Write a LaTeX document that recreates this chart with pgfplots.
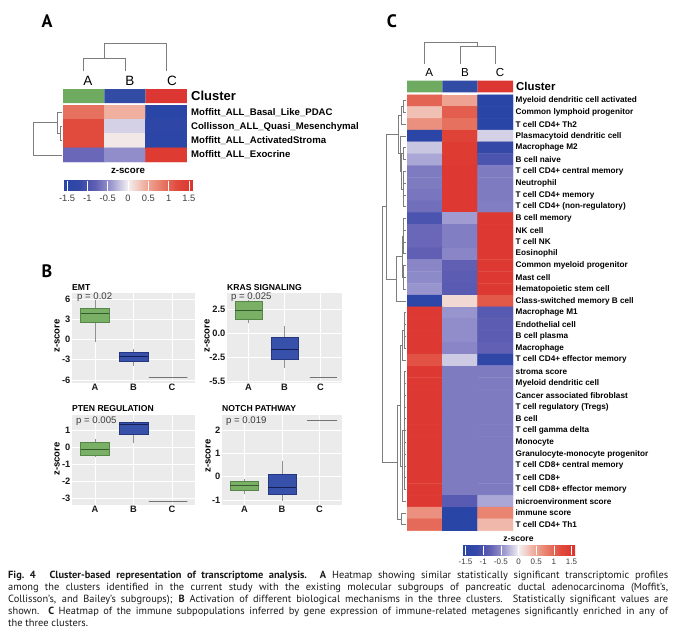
\documentclass[border=0pt]{standalone}
\usepackage{fontspec}
\setmainfont{Liberation Sans}
\newfontfamily\ptsans{PT Sans}
\usepackage{pgfplots}
\pgfplotsset{compat=1.18}
\usepgfplotslibrary{statistics}

\definecolor{ggbg}{RGB}{235,235,235}
\definecolor{cgreen}{RGB}{110,170,95}
\definecolor{cblue}{RGB}{50,75,165}
\definecolor{cred}{RGB}{220,55,50}
\definecolor{gfill}{RGB}{122,176,102}
\definecolor{gline}{RGB}{85,135,72}
\definecolor{gmed}{RGB}{55,90,45}
\definecolor{bfill}{RGB}{55,80,170}
\definecolor{bline}{RGB}{38,55,130}
\definecolor{bmed}{RGB}{20,30,85}
\definecolor{wgray}{RGB}{145,145,145}
\definecolor{cline}{RGB}{115,115,115}
\definecolor{tgray}{RGB}{60,60,60}
\definecolor{dendro}{RGB}{125,125,125}

\newcommand\fsz[1]{\fontsize{#1bp}{#1bp}\selectfont}

\pgfplotsset{
  colormap={hm}{rgb255=(40,70,166) rgb255=(52,72,168) rgb255=(98,96,180) rgb255=(160,156,210)
    rgb255=(243,240,242) rgb255=(240,176,160) rgb255=(232,125,105) rgb255=(224,75,62) rgb255=(220,50,44)},
  heat/.style={scale only axis, hide axis, enlargelimits=false, y dir=reverse,
    xmin=-0.5, xmax=2.5, anchor=north west},
  cbar/.style={colorbar horizontal, colormap name=hm, point meta min=-1.6, point meta max=1.6},
  cbarstyle/.style={at={(parent axis.south west)}, anchor=north west, scale only axis,
    xtick={-1.5,-1,-0.5,0,0.5,1,1.5}, xticklabels={-1.5,-1,-0.5,0,0.5,1,1.5},
    axis line style={draw=none}, xtick style={draw=white, line width=0.5pt},
    tick align=inside, xtick pos=left, ytick=\empty},
  ggbox/.style={scale only axis, anchor=north west, xmin=0.4, xmax=3.6,
    xtick={1,2,3}, xticklabels={A,B,C},
    axis background/.style={fill=ggbg}, axis line style={draw=none},
    grid=major, grid style={white, line width=0.7pt},
    major tick length=0pt, tick label style={font=\bfseries\fsz{9.3}, text=black!90},
    yticklabel style={inner xsep=1.5bp}, xticklabel style={inner ysep=1bp},
    boxplot/draw direction=y, boxplot/whisker extend=0},
  bA/.style={draw=gline, fill=gfill, line width=0.6pt, boxplot/box extend=0.75,
    boxplot/every median/.style={draw=gmed, line width=0.9pt},
    boxplot/every whisker/.style={draw=wgray, line width=0.6pt}},
  bB/.style={draw=bline, fill=bfill, line width=0.6pt, boxplot/box extend=0.75,
    boxplot/every median/.style={draw=bmed, line width=0.9pt},
    boxplot/every whisker/.style={draw=wgray, line width=0.6pt}},
  bC/.style={draw=cline, line width=0.8pt},
}

\begin{document}
\begin{tikzpicture}
\path[use as bounding box] (0,0) rectangle (680bp,-636bp);

% ---------------- panel A ----------------
\begin{axis}[heat, at={(63bp,-89bp)}, width=124bp, height=14bp, ymin=-0.5, ymax=0.5]
\addplot[fill=cgreen, draw=none] coordinates {(-0.5,-0.5) (0.5,-0.5) (0.5,0.5) (-0.5,0.5) (-0.5,-0.5)};
\addplot[fill=cblue, draw=none] coordinates {(0.5,-0.5) (1.5,-0.5) (1.5,0.5) (0.5,0.5) (0.5,-0.5)};
\addplot[fill=cred, draw=none] coordinates {(1.5,-0.5) (2.5,-0.5) (2.5,0.5) (1.5,0.5) (1.5,-0.5)};
\end{axis}

\begin{axis}[heat, at={(63bp,-105bp)}, width=124bp, height=57bp, ymin=-0.5, ymax=3.5,
  cbar, colorbar style={cbarstyle, yshift=-10bp, width=130bp, height=10bp, major tick length=10bp,
    xticklabel style={font=\fsz{9.3}, text=tgray, inner ysep=4bp}}]
\addplot[matrix plot*, mesh/cols=3, point meta=explicit] table[meta=z] {
x y z
0 0 0.9
1 0 0.4
2 0 -1.55
0 1 1.2
1 1 -0.15
2 1 -1.4
0 2 1.2
1 2 0.05
2 2 -1.5
0 3 -0.75
1 3 -0.5
2 3 1.45
};
\end{axis}

% ---------------- panel C ----------------
\begin{axis}[heat, at={(407bp,-80.7bp)}, width=106bp, height=11.6bp, ymin=-0.5, ymax=0.5]
\addplot[fill=cgreen, draw=none] coordinates {(-0.5,-0.5) (0.5,-0.5) (0.5,0.5) (-0.5,0.5) (-0.5,-0.5)};
\addplot[fill=cblue, draw=none] coordinates {(0.5,-0.5) (1.5,-0.5) (1.5,0.5) (0.5,0.5) (0.5,-0.5)};
\addplot[fill=cred, draw=none] coordinates {(1.5,-0.5) (2.5,-0.5) (2.5,0.5) (1.5,0.5) (1.5,-0.5)};
\end{axis}

\begin{axis}[heat, at={(407bp,-94.8bp)}, width=106bp, height=435.86bp, ymin=-0.5, ymax=36.5,
  cbar, colorbar style={cbarstyle, xshift=55bp, yshift=-6.4bp, width=113bp, height=9.7bp, major tick length=9.7bp,
    xticklabel style={font=\fsz{8}, text=tgray, inner ysep=3.5bp}}]
\addplot[matrix plot*, mesh/cols=3, point meta=explicit] table[meta=z] {
x y z
0 0 1.0
1 0 0.5
2 0 -1.55
0 1 0.3
1 1 1.05
2 1 -1.55
0 2 0.65
1 2 0.9
2 2 -1.55
0 3 -1.5
1 3 1.35
2 3 -0.15
0 4 -0.2
1 4 1.45
2 4 -1.2
0 5 -0.35
1 5 1.45
2 5 -1.0
0 6 -0.62
1 6 1.5
2 6 -0.62
0 7 -0.62
1 7 1.5
2 7 -0.62
0 8 -0.65
1 8 1.5
2 8 -0.62
0 9 -0.7
1 9 1.5
2 9 -0.6
0 10 -1.0
1 10 -0.4
2 10 1.5
0 11 -0.75
1 11 -0.6
2 11 1.5
0 12 -0.75
1 12 -0.6
2 12 1.5
0 13 -0.82
1 13 -0.55
2 13 1.5
0 14 -0.55
1 14 -0.82
2 14 1.5
0 15 -0.52
1 15 -0.85
2 15 1.5
0 16 -0.45
1 16 -0.88
2 16 1.5
0 17 -1.45
1 17 0.15
2 17 1.1
0 18 1.5
1 18 -0.45
2 18 -0.9
0 19 1.5
1 19 -0.5
2 19 -0.85
0 20 1.5
1 20 -0.5
2 20 -0.85
0 21 1.5
1 21 -0.55
2 21 -0.8
0 22 1.15
1 22 -0.18
2 22 -1.3
0 23 1.5
1 23 -0.62
2 23 -0.62
0 24 1.5
1 24 -0.62
2 24 -0.62
0 25 1.5
1 25 -0.62
2 25 -0.62
0 26 1.5
1 26 -0.62
2 26 -0.62
0 27 1.5
1 27 -0.62
2 27 -0.62
0 28 1.5
1 28 -0.62
2 28 -0.62
0 29 1.5
1 29 -0.62
2 29 -0.62
0 30 1.5
1 30 -0.62
2 30 -0.62
0 31 1.5
1 31 -0.62
2 31 -0.62
0 32 1.5
1 32 -0.62
2 32 -0.62
0 33 1.5
1 33 -0.62
2 33 -0.62
0 34 1.5
1 34 -0.88
2 34 -0.35
0 35 0.65
1 35 -1.55
2 35 0.75
0 36 0.95
1 36 -1.55
2 36 0.35
};
\end{axis}

% ---------------- panel B ----------------
\begin{axis}[ggbox, at={(72bp,-293bp)}, width=123bp, height=90bp, ymin=-6.44, ymax=6.89,
  ytick={-6,-3,0,3,6}, yticklabels={-6,-3,0,3,6}]
\addplot[bA, boxplot prepared={draw position=1, lower whisker=-0.33, lower quartile=2.49,
  median=3.88, upper quartile=4.62, upper whisker=5.9}] coordinates {};
\addplot[bB, boxplot prepared={draw position=2, lower whisker=-3.93, lower quartile=-3.19,
  median=-2.44, upper quartile=-1.96, upper whisker=-1.45}] coordinates {};
\addplot[bC, boxplot/box extend=1.0, boxplot prepared={draw position=2.9, lower whisker=-5.66, lower quartile=-5.66,
  median=-5.66, upper quartile=-5.66, upper whisker=-5.66}] coordinates {};
\end{axis}

\begin{axis}[ggbox, at={(227bp,-293bp)}, width=115bp, height=90bp, ymin=-5.14, ymax=4.19,
  ytick={-5,-2.5,0,2.5}, yticklabels={-5.5,-2.5,0.0,2.5}]
\addplot[bA, boxplot prepared={draw position=1, lower whisker=1.05, lower quartile=1.46,
  median=2.42, upper quartile=3.28, upper whisker=3.45}] coordinates {};
\addplot[bB, boxplot prepared={draw position=2, lower whisker=-3.62, lower quartile=-2.65,
  median=-1.62, upper quartile=-0.40, upper whisker=0.77}] coordinates {};
\addplot[bC, boxplot/box extend=0.75, boxplot prepared={draw position=3.08, lower whisker=-4.59, lower quartile=-4.59,
  median=-4.59, upper quartile=-4.59, upper whisker=-4.59}] coordinates {};
\end{axis}

\begin{axis}[ggbox, at={(72bp,-415bp)}, width=123bp, height=90bp, ymin=-3.40, ymax=1.87,
  ytick={-3,-2,-1,0,1}, yticklabels={-3,-2,-1,0,1}]
\addplot[bA, boxplot prepared={draw position=1, lower whisker=-0.61, lower quartile=-0.49,
  median=-0.14, upper quartile=0.25, upper whisker=0.44}] coordinates {};
\addplot[bB, boxplot prepared={draw position=2, lower whisker=0.21, lower quartile=0.75,
  median=1.32, upper quartile=1.42, upper whisker=1.53}] coordinates {};
\addplot[bC, boxplot/box extend=1.0, boxplot prepared={draw position=2.9, lower whisker=-3.16, lower quartile=-3.16,
  median=-3.16, upper quartile=-3.16, upper whisker=-3.16}] coordinates {};
\end{axis}

\begin{axis}[ggbox, at={(222bp,-415bp)}, width=120bp, height=90bp, ymin=-1.22, ymax=2.64,
  ytick={-1,0,1,2}, yticklabels={-1,0,1,2}]
\addplot[bA, boxplot prepared={draw position=1, lower whisker=-0.75, lower quartile=-0.57,
  median=-0.36, upper quartile=-0.22, upper whisker=-0.12}] coordinates {};
\addplot[bB, boxplot prepared={draw position=2, lower whisker=-1.03, lower quartile=-0.76,
  median=-0.46, upper quartile=0.10, upper whisker=0.68}] coordinates {};
\addplot[bC, boxplot/box extend=0.8, boxplot prepared={draw position=3.07, lower whisker=2.43, lower quartile=2.43,
  median=2.43, upper quartile=2.43, upper whisker=2.43}] coordinates {};
\end{axis}

% ---------------- dendrograms (pixel frame) ----------------
\begin{axis}[at={(0,0)}, anchor=north west, scale only axis, width=680bp, height=636bp, hide axis,
  xmin=0, xmax=680, ymin=0, ymax=636, y dir=reverse, clip=false, unbounded coords=jump]
% panel A, columns
\addplot[dendro, line width=0.8pt] coordinates {(83.7,71) (83.7,58) (125,58) (125,71) (nan,nan)
  (104.3,58) (104.3,43) (166.3,43) (166.3,71)};
% panel A, rows
\addplot[dendro, line width=0.8pt] coordinates {(62,126.4) (60,126.4) (60,140.6) (62,140.6) (nan,nan)
  (62,112.1) (57,112.1) (57,133.5) (60,133.5) (nan,nan)
  (57,122.8) (33,122.8) (33,154.9) (62,154.9)};
% panel C, columns
\addplot[dendro, line width=0.8pt] coordinates {(460,64) (460,46) (495.3,46) (495.3,64) (nan,nan)
  (477.7,46) (477.7,42.7) (424.7,42.7) (424.7,64)};
% panel C, rows (upper part)
\addplot[dendro, line width=0.7pt] coordinates {
  (406,100.69) (403,100.69) (403,112.47) (406,112.47) (nan,nan)
  (403,106.58) (401.5,106.58) (401.5,124.25) (406,124.25) (nan,nan)
  (406,147.81) (403,147.81) (403,159.59) (406,159.59) (nan,nan)
  (406,171.37) (403.5,171.37) (403.5,206.71) (406,206.71) (nan,nan)
  (403.5,183.15) (406,183.15) (nan,nan) (403.5,194.93) (406,194.93) (nan,nan)
  (403,153.7) (401.5,153.7) (401.5,189.04) (403.5,189.04) (nan,nan)
  (406,136.03) (400,136.03) (400,171.37) (401.5,171.37) (nan,nan)
  (401.5,115.4) (398.5,115.4) (398.5,153.7) (400,153.7) (nan,nan)
  (406,218.49) (403.5,218.49) (403.5,253.83) (406,253.83) (nan,nan)
  (403.5,230.27) (406,230.27) (nan,nan) (403.5,242.05) (406,242.05) (nan,nan)
  (406,265.61) (403.5,265.61) (403.5,289.17) (406,289.17) (nan,nan)
  (403.5,277.39) (406,277.39) (nan,nan)
  (403.5,236.16) (402,236.16) (402,277.39) (403.5,277.39) (nan,nan)
  (402,256.78) (396,256.78) (396,300.95) (406,300.95) (nan,nan)
  (398.5,134.55) (386,134.55) (386,278.87) (396,278.87)};
% panel C, rows (lower part and root)
\addplot[dendro, line width=0.7pt] coordinates {
  (406,312.73) (404,312.73) (404,348.07) (406,348.07) (nan,nan)
  (404,324.51) (406,324.51) (nan,nan) (404,336.29) (406,336.29) (nan,nan)
  (404,330.4) (402,330.4) (402,359.85) (406,359.85) (nan,nan)
  (406,371.63) (404.5,371.63) (404.5,489.43) (406,489.43) (nan,nan)
  (404.5,383.41) (406,383.41) (nan,nan) (404.5,395.19) (406,395.19) (nan,nan)
  (404.5,406.97) (406,406.97) (nan,nan) (404.5,418.75) (406,418.75) (nan,nan)
  (404.5,430.53) (406,430.53) (nan,nan) (404.5,442.31) (406,442.31) (nan,nan)
  (404.5,454.09) (406,454.09) (nan,nan) (404.5,465.87) (406,465.87) (nan,nan)
  (404.5,477.65) (406,477.65) (nan,nan)
  (404.5,430.53) (402,430.53) (402,501.21) (406,501.21) (nan,nan)
  (402,345.13) (400,345.13) (400,465.87) (402,465.87) (nan,nan)
  (406,512.99) (401,512.99) (401,524.77) (406,524.77) (nan,nan)
  (400,405.5) (397.5,405.5) (397.5,518.88) (401,518.88) (nan,nan)
  (386,206.71) (382.7,206.71) (382.7,462.19) (397.5,462.19)};
\end{axis}

% ---------------- texts ----------------
\begin{scope}[every node/.style={inner sep=0pt}]
% panel letters
\node[font=\ptsans\bfseries\fsz{18}] at (47bp,-21bp) {A};
\node[font=\ptsans\bfseries\fsz{18}] at (47bp,-271.5bp) {B};
\node[font=\ptsans\bfseries\fsz{18}] at (392bp,-21bp) {C};

% panel A
\node[font=\fsz{13.5}] at (88bp,-81bp) {A};
\node[font=\fsz{13.5}] at (130bp,-81bp) {B};
\node[font=\fsz{13.5}] at (172bp,-81bp) {C};
\node[anchor=west, font=\bfseries\fsz{13}] at (191bp,-96bp) {Cluster};
\node[anchor=west, font=\bfseries\fsz{9.6}] at (191bp,-112.7bp) {Moffitt\_ALL\_Basal\_Like\_PDAC};
\node[anchor=west, font=\bfseries\fsz{9.6}] at (191bp,-127bp) {Collisson\_ALL\_Quasi\_Mesenchymal};
\node[anchor=west, font=\bfseries\fsz{9.6}] at (191bp,-140.7bp) {Moffitt\_ALL\_ActivatedStroma};
\node[anchor=west, font=\bfseries\fsz{9.6}] at (191bp,-155bp) {Moffitt\_ALL\_Exocrine};
\node[font=\bfseries\fsz{9.7}] at (128bp,-171bp) {z-score};

% panel B
\node[anchor=west, font=\bfseries\fsz{8.6}] at (72bp,-288bp) {EMT};
\node[anchor=west, font=\bfseries\fsz{8.6}] at (227bp,-288bp) {KRAS SIGNALING};
\node[anchor=west, font=\bfseries\fsz{8.6}] at (72bp,-409bp) {PTEN REGULATION};
\node[anchor=west, font=\bfseries\fsz{8.6}] at (222bp,-409bp) {NOTCH PATHWAY};
\node[anchor=west, font=\fsz{9.6}, text=tgray] at (77bp,-297.5bp) {p = 0.02};
\node[anchor=west, font=\fsz{9.6}, text=tgray] at (231bp,-297.5bp) {p = 0.025};
\node[anchor=west, font=\fsz{9.6}, text=tgray] at (76bp,-421.5bp) {p = 0.005};
\node[anchor=west, font=\fsz{9.6}, text=tgray] at (226bp,-421.5bp) {p = 0.019};
\node[rotate=90, font=\bfseries\fsz{9.5}] at (57bp,-336bp) {z-score};
\node[rotate=90, font=\bfseries\fsz{9.5}] at (207bp,-336bp) {z-score};
\node[rotate=90, font=\bfseries\fsz{9.5}] at (57bp,-459bp) {z-score};
\node[rotate=90, font=\bfseries\fsz{9.5}] at (208bp,-456bp) {z-score};

% panel C
\node[font=\fsz{11.6}] at (429.3bp,-73bp) {A};
\node[font=\fsz{11.6}] at (465bp,-73bp) {B};
\node[font=\fsz{11.6}] at (500bp,-73bp) {C};
\node[anchor=west, font=\bfseries\fsz{11.4}] at (516bp,-86.5bp) {Cluster};
\foreach \lab [count=\i] in {Myeloid dendritic cell activated, Common lymphoid progenitor,
  T cell CD4+ Th2, Plasmacytoid dendritic cell, Macrophage M2, B cell naive,
  T cell CD4+ central memory, Neutrophil, T cell CD4+ memory, T cell CD4+ (non-regulatory),
  B cell memory, NK cell, T cell NK, Eosinophil, Common myeloid progenitor, Mast cell,
  Hematopoietic stem cell, Class-switched memory B cell, Macrophage M1, Endothelial cell,
  B cell plasma, Macrophage, T cell CD4+ effector memory, stroma score, Myeloid dendritic cell,
  Cancer associated fibroblast, T cell regulatory (Tregs), B cell, T cell gamma delta, Monocyte,
  Granulocyte-monocyte progenitor, T cell CD8+ central memory, T cell CD8+,
  T cell CD8+ effector memory, microenvironment score, immune score, T cell CD4+ Th1}
  {\pgfmathsetmacro\yy{-(94.8+(\i-0.5)*11.78)}
   \node[anchor=west, font=\bfseries\fsz{8.2}] at (515.5bp,\yy bp) {\lab};}
\node[font=\bfseries\fsz{8.6}] at (518.5bp,-539bp) {z-score};

% caption
\node[anchor=north west, align=left, font=\ptsans\fsz{10.4}, text=black!90] at (8bp,-571bp) {%
\makebox[660bp][s]{\textbf{Fig.~4}\hspace{8bp} \textbf{Cluster-based representation of transcriptome analysis.} \textbf{A} Heatmap showing similar statistically significant transcriptomic profiles}\\[1.6bp]
\makebox[660bp][s]{among the clusters identified in the current study with the existing molecular subgroups of pancreatic ductal adenocarcinoma (Moffit’s,}\\[1.6bp]
\makebox[660bp][s]{Collisson’s, and Bailey’s subgroups); \textbf{B} Activation of different biological mechanisms in the three clusters. Statistically significant values are}\\[1.6bp]
\makebox[660bp][s]{shown. \textbf{C} Heatmap of the immune subpopulations inferred by gene expression of immune-related metagenes significantly enriched in any of}\\[1.6bp]
the three clusters.};
\end{scope}
\end{tikzpicture}
\end{document}
